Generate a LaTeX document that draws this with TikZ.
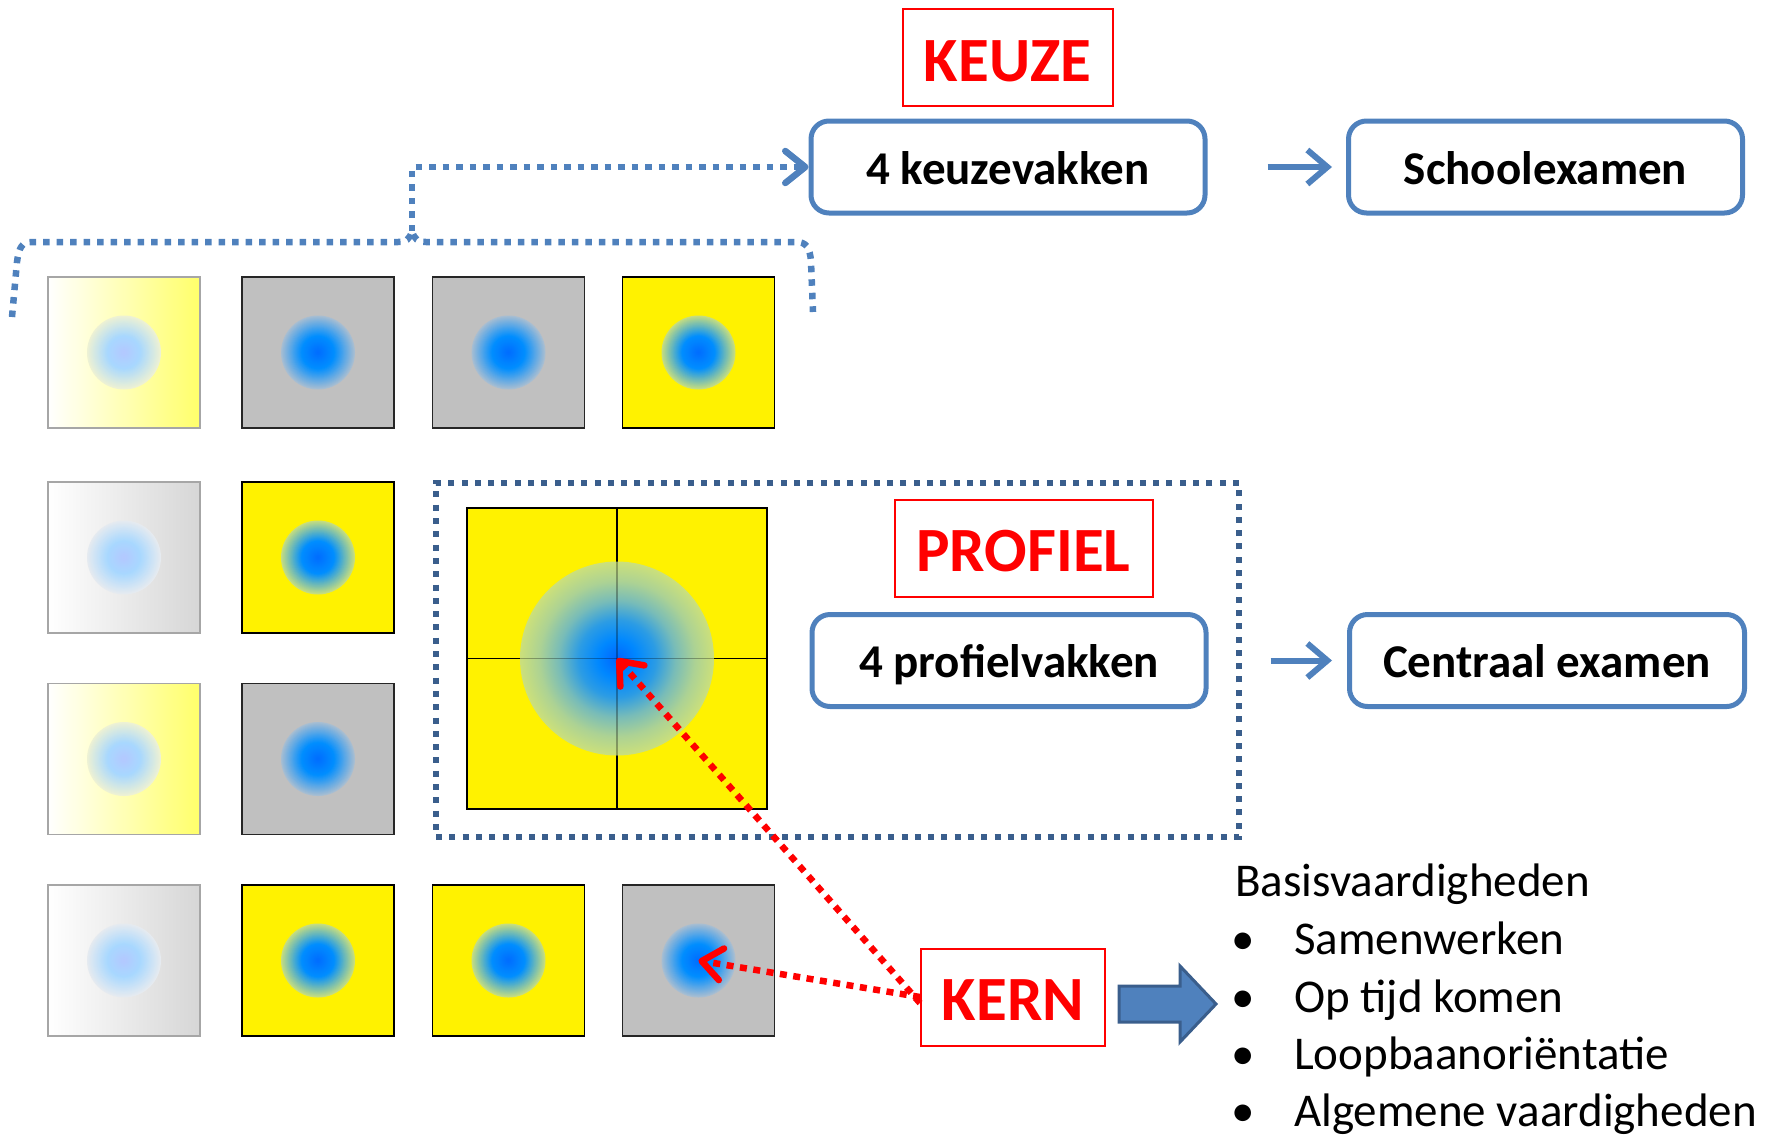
\documentclass[tikz,border=0pt]{standalone}
\usepackage{fontspec}
\setmainfont{Carlito}
\usetikzlibrary{arrows.meta}

\definecolor{accblue}{HTML}{4F81BD}
\definecolor{darkblue}{HTML}{3A5E8C}
\definecolor{sqgray}{HTML}{C0C0C0}
\definecolor{dotA}{HTML}{0066FF}
\definecolor{dotB}{HTML}{0088FF}
\definecolor{dotCY}{HTML}{2C9CE4}
\definecolor{midY}{HTML}{78BCB8}
\definecolor{tealY}{HTML}{ACD294}
\definecolor{edgeY}{HTML}{CCE07A}
\definecolor{coreA}{HTML}{006CFF}
\definecolor{coreB}{HTML}{008EFF}
\definecolor{rimG}{HTML}{A8BED2}
\definecolor{rimY}{HTML}{C8DE7E}
\definecolor{paleA}{HTML}{B4C8FF}
\definecolor{paleB}{HTML}{A8D8FF}
\definecolor{paleEY}{HTML}{EEF2D4}
\definecolor{paleEG}{HTML}{E6EBF0}
\definecolor{fadeYR}{HTML}{FFFF6A}
\definecolor{fadeGR}{HTML}{D6D6D6}

\pgfdeclareradialshading{dotyellow}{\pgfpoint{0bp}{0bp}}{color(0bp)=(dotA); color(5bp)=(dotB); color(10bp)=(dotCY); color(15bp)=(midY); color(20bp)=(tealY); color(25bp)=(edgeY); color(50bp)=(edgeY)}

% soft round blob drawn as concentric discs: center, radius, core, middle, rim
\newcommand{\myblob}[5]{%
  \foreach \k in {40,39,...,1}{%
    \pgfmathsetmacro{\blobr}{#2*\k/40}%
    \pgfmathtruncatemacro{\blobin}{\k>18 ? 0 : 1}%
    \ifnum\blobin=1
      \pgfmathtruncatemacro{\blobp}{100*\k/18}%
      \colorlet{blobc}{#4!\blobp!#3}%
    \else
      \pgfmathtruncatemacro{\blobp}{100*(\k-18)/22}%
      \colorlet{blobc}{#5!\blobp!#4}%
    \fi
    \fill[blobc] #1 circle[radius=\blobr pt];%
  }%
}

\tikzset{
  sq/.style={rectangle, minimum width=152pt, minimum height=151pt, inner sep=0pt, line width=1.6pt},
  graysq/.style={sq, draw=black!85, fill=sqgray},
  yelsq/.style={sq, draw=black, fill=yellow},
  fadeYsq/.style={sq, draw=gray!70, left color=white, right color=fadeYR},
  fadeGsq/.style={sq, draw=gray!70, left color=white, right color=fadeGR},
  bluebox/.style={rectangle, rounded corners=18pt, draw=accblue, line width=5pt, fill=white,
    minimum width=394pt, minimum height=92pt, inner sep=0pt,
    font=\fontsize{47}{56}\selectfont\bfseries, text height=34pt, text depth=0pt},
  redbox/.style={rectangle, draw=red, line width=2pt, fill=white, text=red, inner sep=0pt,
    minimum height=97pt, font=\fontsize{63}{75}\selectfont\bfseries, text height=47pt, text depth=0pt},
  bluedots/.style={draw=accblue, line width=6.5pt, dash pattern=on 6.5pt off 7pt},
  reddots/.style={draw=red, line width=6.5pt, dash pattern=on 7pt off 6.5pt},
  barb/.style={-{Straight Barb[length=20pt,width=32pt,round]}},
  shortarrow/.style={draw=accblue, line width=6pt, -{Straight Barb[length=20pt,width=34pt]}},
  listtext/.style={anchor=base west, inner sep=0pt, font=\fontsize{47}{56}\selectfont},
}

\begin{document}
\begin{tikzpicture}[x=1pt,y=-1pt]
\useasboundingbox (0,0) rectangle (1785,1136);

% grid of squares
\node[fadeYsq] (s11) at (124,352.5) {};
\node[graysq]  (s12) at (318,352.5) {};
\node[graysq]  (s13) at (508.5,352.5) {};
\node[yelsq]   (s14) at (698.5,352.5) {};
\node[fadeGsq] (s21) at (124,557.5) {};
\node[yelsq]   (s22) at (318,557.5) {};
\node[fadeYsq] (s31) at (124,759) {};
\node[graysq]  (s32) at (318,759) {};
\node[fadeGsq] (s41) at (124,960.5) {};
\node[yelsq]   (s42) at (318,960.5) {};
\node[yelsq]   (s43) at (508.5,960.5) {};
\node[graysq]  (s44) at (698.5,960.5) {};

% soft blobs in the squares
\myblob{(s11.center)}{37}{paleA}{paleB}{paleEY}
\myblob{(s12.center)}{37}{coreA}{coreB}{rimG}
\myblob{(s13.center)}{37}{coreA}{coreB}{rimG}
\myblob{(s14.center)}{37}{coreA}{coreB}{rimY}
\myblob{(s21.center)}{37}{paleA}{paleB}{paleEG}
\myblob{(s22.center)}{37}{coreA}{coreB}{rimY}
\myblob{(s31.center)}{37}{paleA}{paleB}{paleEY}
\myblob{(s32.center)}{37}{coreA}{coreB}{rimG}
\myblob{(s41.center)}{37}{paleA}{paleB}{paleEG}
\myblob{(s42.center)}{37}{coreA}{coreB}{rimY}
\myblob{(s43.center)}{37}{coreA}{coreB}{rimY}
\myblob{(s44.center)}{37}{coreA}{coreB}{rimG}

% profile block
\node[rectangle, draw=darkblue, line width=6pt, dash pattern=on 6pt off 7.3pt,
      minimum width=803pt, minimum height=354pt, inner sep=0pt] (profbox) at (837.5,660) {};
\node[rectangle, draw=black, line width=1.6pt, fill=yellow, minimum width=300pt, minimum height=301pt, inner sep=0pt,
  path picture={
    \draw[black, line width=1.3pt] (path picture bounding box.north) -- (path picture bounding box.south);
    \draw[black, line width=1.3pt] (path picture bounding box.west) -- (path picture bounding box.east);
    \shade[shading=dotyellow] (path picture bounding box.center) circle[radius=97pt];
    \draw[black, line width=1.3pt, draw opacity=0.3] (path picture bounding box.north) -- (path picture bounding box.south);
    \draw[black, line width=1.3pt, draw opacity=0.3] (path picture bounding box.west) -- (path picture bounding box.east);
  }] (big) at (617,658.5) {};

% labels and boxes
\node[redbox, minimum width=210pt] (keuze) at (1007.5,57.5) {KEUZE};
\node[bluebox] (keuzevak) at (1008,167) {4 keuzevakken};
\node[bluebox] (school) at (1545.5,167) {Schoolexamen};
\node[redbox, minimum width=258pt] (profiel) at (1023.5,548) {PROFIEL};
\node[bluebox] (profielvak) at (1009,660.5) {4 profielvakken};
\node[bluebox, minimum width=395pt] (centraal) at (1547,660.5) {Centraal examen};
\node[redbox, minimum width=184pt] (kern) at (1013,997) {KERN};

% short arrows
\draw[shortarrow] ([xshift=60pt]keuzevak.east) -- ([xshift=-14pt]school.west);
\draw[shortarrow] ([xshift=62pt]profielvak.east) -- ([xshift=-15pt]centraal.west);

% brace over the top row
\coordinate (bracetip) at (412,231);
\draw[bluedots] (12,317) -- (17,262) .. controls (19,247) and (22,242) .. (32,242) -- (398,242)
  .. controls (406,242) and (410,239) .. (bracetip) .. controls (414,239) and (418,242) .. (426,242)
  -- (796,242) .. controls (806,242) and (810,247) .. (811,262) -- (813,312);
\draw[bluedots, barb] (bracetip) |- (keuzevak.west);

% red dotted arrows from KERN
\draw[reddots, barb] ([yshift=-6pt]kern.west) -- (big.center);
\draw[reddots, barb] (kern.west) -- (s44.center);

% block arrow
\draw[darkblue, line width=3pt, fill=accblue, line join=miter]
  (1119,986) -- (1180,986) -- (1180,966) -- (1216,1004) -- (1180,1042) -- (1180,1022) -- (1119,1022) -- cycle;

% list
\node[listtext] (basis) at (1235,896) {Basisvaardigheden};
\node[listtext] (b1) at (1231,954) {•};
\node[listtext] (t1) at (1294,954) {Samenwerken};
\node[listtext] (b2) at (1231,1012) {•};
\node[listtext] (t2) at (1294,1012) {Op tijd komen};
\node[listtext] (b3) at (1231,1069) {•};
\node[listtext] (t3) at (1294,1069) {Loopbaanoriëntatie};
\node[listtext] (b4) at (1231,1126) {•};
\node[listtext] (t4) at (1294,1126) {Algemene vaardigheden};
\end{tikzpicture}
\end{document}
